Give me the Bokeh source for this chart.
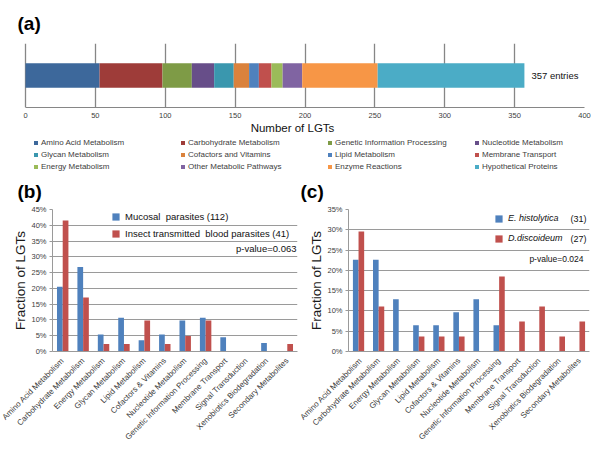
import math
from bokeh.plotting import figure
from bokeh.models import (Range1d, FactorRange, FixedTicker, PrintfTickFormatter,
                          Legend, LegendItem, Label, ColumnDataSource)
from bokeh.layouts import column, row
from bokeh.transform import dodge
from bokeh.embed import file_html
from bokeh.resources import INLINE
from bokeh.core.properties import value

FONT = "Liberation Sans"

# ---------------- data: panel (a) ----------------
a_groups = ["Amino Acid Metabolism", "Carbohydrate Metabolism", "Genetic Information Processing",
            "Nucleotide Metabolism", "Glycan Metabolism", "Cofactors and Vitamins",
            "Lipid Metabolism", "Membrane Transport", "Energy Metabolism",
            "Other Metabolic Pathways", "Enzyme Reactions", "Hypothetical Proteins"]
a_counts = [53, 45, 21, 16, 14, 11, 7, 9, 8, 14, 54, 105]
a_colors = ["#3D689B", "#9E3C39", "#7E9B46", "#674E89", "#3A97AE", "#DA823D",
            "#4F81BD", "#C0504D", "#9BBB59", "#8064A2", "#F79646", "#4BACC6"]
a_ticks = [0, 50, 100, 150, 200, 250, 300, 350, 400]
a_row = ["LGTs"]
a_total_text = "357 entries"
a_xlabel = "Number of LGTs"
panel_tags = ["(a)", "(b)", "(c)"]

# ---------------- data: panels (b) and (c) ----------------
cats = ["Amino Acid Metabolism", "Carbohydrate Metabolism", "Energy Metabolism",
        "Glycan Metabolism", "Lipid Metabolism", "Cofactors & Vitamins",
        "Nucleotide Metabolism", "Genetic Information Processing", "Membrane Transport",
        "Signal Transduction", "Xenobiotics Biodegradation", "Secondary Metabolites"]

b_mucosal = [20.5, 26.8, 5.4, 10.7, 3.6, 5.4, 9.8, 10.7, 4.5, 0.0, 2.7, 0.0]
b_insect = [41.5, 17.1, 2.4, 2.4, 9.8, 2.4, 4.9, 9.8, 0.0, 0.0, 0.0, 2.4]
b_series = ["Mucosal  parasites (112)", "Insect transmitted  blood parasites (41)"]
b_pvalue = "p-value=0.063"
b_yticks = [0, 5, 10, 15, 20, 25, 30, 35, 40, 45]

c_histolytica = [22.6, 22.6, 12.9, 6.5, 6.5, 9.7, 12.9, 6.5, 0.0, 0.0, 0.0, 0.0]
c_discoideum = [29.6, 11.1, 0.0, 3.7, 3.7, 3.7, 0.0, 18.5, 7.4, 11.1, 3.7, 7.4]
c_species = ["E. histolytica", "D.discoideum"]
c_counts = ["(31)", "(27)"]
c_pvalue = "p-value=0.024"
c_yticks = [0, 5, 10, 15, 20, 25, 30, 35]

BLUE = "#4F81BD"
RED = "#C0504D"
GRID = "#9a9a9a"
TICKTXT = "#404040"

# layout constants (pixels)
W = 596
A_LEFT = 25          # where the 0 of panel (a) sits
A_RIGHT = 12
A_FRAME = W - A_LEFT - A_RIGHT
a_start = -a_ticks[-1] * A_LEFT / A_FRAME   # range start so that 0 lands at A_LEFT


def blank_strip(height):
    p = figure(width=W, height=height, x_range=Range1d(a_start, a_ticks[-1]),
               y_range=FactorRange(*a_row), output_backend="svg", toolbar_location=None,
               x_axis_location=None, y_axis_location=None, title=None,
               min_border_left=0, min_border_right=A_RIGHT, min_border_top=0,
               min_border_bottom=0)
    p.outline_line_color = None
    p.grid.grid_line_color = None
    return p


def tag(p, text, x, y):
    p.add_layout(Label(x=x, y=y, x_units="screen", y_units="screen", text=text,
                       text_font=FONT, text_font_style="bold", text_font_size="19px",
                       text_baseline="middle", text_color="#000000"))


# ---------------- top strip with (a) ----------------
ptop = blank_strip(40)
tag(ptop, panel_tags[0], 17, 17)

# ---------------- panel (a): stacked bar ----------------
pa = figure(width=W, height=97, x_range=Range1d(a_start, a_ticks[-1]),
            y_range=FactorRange(*a_row), output_backend="svg", toolbar_location=None,
            y_axis_location=None, title=None, min_border_left=0, min_border_right=A_RIGHT,
            min_border_top=3, min_border_bottom=30)
pa.outline_line_color = None
src_a = ColumnDataSource(dict(row=a_row, **{g: [c] for g, c in zip(a_groups, a_counts)}))
pa.hbar_stack(a_groups, y="row", height=0.38, color=a_colors, source=src_a, line_width=0)
pa.text(x=[sum(a_counts)], y=a_row, text=[a_total_text], x_offset=7, text_baseline="middle",
        text_font=value(FONT), text_font_size="9.5px", text_color="#111111")

pa.xaxis.ticker = FixedTicker(ticks=a_ticks)
pa.xaxis.bounds = (a_ticks[0], a_ticks[-1])
pa.xaxis.axis_label = a_xlabel
pa.xaxis.axis_label_text_font = FONT
pa.xaxis.axis_label_text_font_size = "11.5px"
pa.xaxis.axis_label_text_font_style = "normal"
pa.xaxis.axis_label_text_color = "#111111"
pa.xaxis.axis_label_standoff = 1
pa.xaxis.major_label_text_font = FONT
pa.xaxis.major_label_text_font_size = "7.5px"
pa.xaxis.major_label_text_color = TICKTXT
pa.xaxis.major_label_standoff = 5
pa.xaxis.major_tick_out = 0
pa.xaxis.major_tick_in = 0
pa.xaxis.minor_tick_line_color = None
pa.xaxis.axis_line_color = "#868686"
pa.xaxis.axis_line_width = 1.2
pa.xgrid.grid_line_color = "#868686"
pa.xgrid.grid_line_width = 1.3
pa.ygrid.grid_line_color = None

# ---------------- legend strip of (a) + tags (b), (c) ----------------
pl = blank_strip(67)
rl = pl.hbar_stack(a_groups, y="row", height=0.38, color=a_colors, source=src_a,
                   line_width=0, visible=False)
leg_a = Legend(items=[LegendItem(label=g, renderers=[r]) for g, r in zip(a_groups, rl)],
               location=(33, 33), orientation="horizontal", ncols=4,
               glyph_width=5, glyph_height=5, label_standoff=3, label_width=136,
               label_height=9, spacing=3, padding=0, margin=0,
               border_line_color=None, background_fill_alpha=0,
               inactive_fill_alpha=0, click_policy="none",
               label_text_font=FONT, label_text_font_size="8px", label_text_color=TICKTXT)
pl.add_layout(leg_a)
tag(pl, panel_tags[1], 17, 13)
tag(pl, panel_tags[2], 300, 13)


def bar_panel(v1, v2, yticks, min_left, min_right):
    p = figure(width=298, height=244, title=None,
               x_range=FactorRange(*cats), y_range=Range1d(yticks[0], yticks[-1]),
               output_backend="svg", toolbar_location=None,
               min_border_left=min_left, min_border_right=min_right,
               min_border_top=5, min_border_bottom=97)
    p.outline_line_color = None
    src = ColumnDataSource(dict(cat=cats, v1=v1, v2=v2))
    r1 = p.vbar(x=dodge("cat", -0.14, range=p.x_range), top="v1", width=0.28,
                source=src, fill_color=BLUE, line_alpha=0)
    r2 = p.vbar(x=dodge("cat", 0.14, range=p.x_range), top="v2", width=0.28,
                source=src, fill_color=RED, line_alpha=0)
    p.yaxis.ticker = FixedTicker(ticks=yticks)
    p.yaxis.formatter = PrintfTickFormatter(format="%d%%")
    p.yaxis.axis_label = "Fraction of LGTs"
    p.yaxis.axis_label_text_font = FONT
    p.yaxis.axis_label_text_font_size = "13.5px"
    p.yaxis.axis_label_text_font_style = "normal"
    p.yaxis.axis_label_text_color = "#1a1a1a"
    p.yaxis.axis_label_standoff = 0
    p.yaxis.major_label_text_font = FONT
    p.yaxis.major_label_text_font_size = "7.5px"
    p.yaxis.major_label_text_color = TICKTXT
    p.yaxis.major_label_standoff = 3
    p.yaxis.major_tick_out = 3
    p.yaxis.major_tick_in = 0
    p.yaxis.major_tick_line_color = GRID
    p.yaxis.minor_tick_line_color = None
    p.yaxis.axis_line_color = GRID
    p.xaxis.major_label_orientation = math.pi / 4
    p.xaxis.major_label_text_font = FONT
    p.xaxis.major_label_text_font_size = "8px"
    p.xaxis.major_label_text_color = "#3a3a3a"
    p.xaxis.major_label_standoff = 2
    p.xaxis.major_tick_line_color = None
    p.xaxis.axis_line_color = GRID
    p.ygrid.grid_line_color = GRID
    p.xgrid.grid_line_color = None
    return p, r1, r2


# ---------------- panel (b) ----------------
pb, rb1, rb2 = bar_panel(b_mucosal, b_insect, b_yticks, 52, 1)
leg_b = Legend(items=[LegendItem(label=b_series[0], renderers=[rb1]),
                      LegendItem(label=b_series[1], renderers=[rb2])],
               location=(59, 112), glyph_width=9, glyph_height=9, label_standoff=5,
               label_height=12, spacing=5, padding=0, margin=0,
               border_line_color=None, background_fill_alpha=0,
               label_text_font=FONT, label_text_font_size="9.5px", label_text_color="#111111")
pb.add_layout(leg_b)
pb.add_layout(Label(x=244, y=103, x_units="screen", y_units="screen", text=b_pvalue,
                    text_align="right", text_baseline="middle", text_font=FONT,
                    text_font_size="9.5px", text_color="#111111"))

# ---------------- panel (c) ----------------
pc, rc1, rc2 = bar_panel(c_histolytica, c_discoideum, c_yticks, 50, 7)
leg_c = Legend(items=[LegendItem(label=c_species[0], renderers=[rc1]),
                      LegendItem(label=c_species[1], renderers=[rc2])],
               location=(146, 107), glyph_width=9, glyph_height=9, label_standoff=5,
               label_height=12, spacing=8, padding=0, margin=0,
               border_line_color=None, background_fill_alpha=0,
               label_text_font=FONT, label_text_font_size="9px",
               label_text_font_style="italic", label_text_color="#111111")
pc.add_layout(leg_c)
for i, t in enumerate(c_counts):
    pc.add_layout(Label(x=222, y=133 - i * 20, x_units="screen", y_units="screen",
                        text=t, text_baseline="middle", text_font=FONT,
                        text_font_size="9px", text_color="#111111"))
pc.add_layout(Label(x=235, y=93, x_units="screen", y_units="screen", text=c_pvalue,
                    text_align="right", text_baseline="middle", text_font=FONT,
                    text_font_size="8.5px", text_color="#111111"))

layout = column(ptop, pa, pl, row(pb, pc))
open("out.html", "w").write(file_html(layout, INLINE))
